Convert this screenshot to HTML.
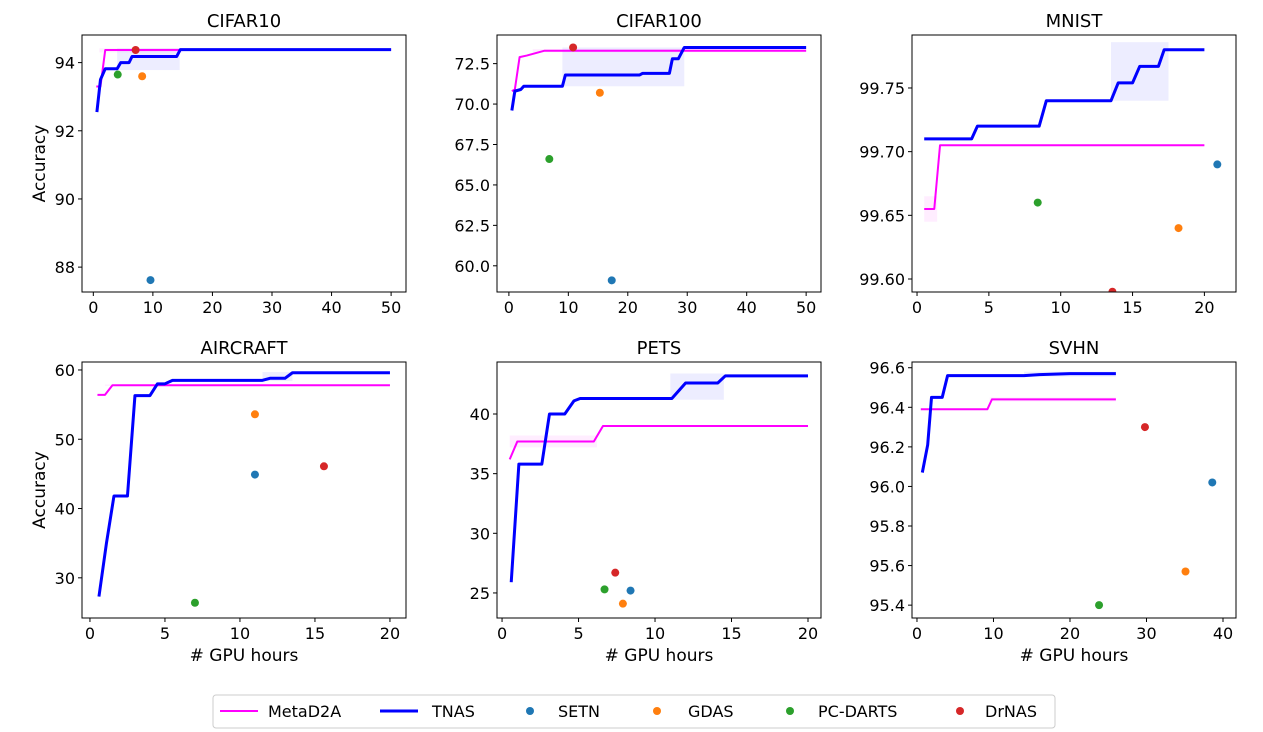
<!DOCTYPE html>
<html><head><meta charset="utf-8"><style>
html,body{margin:0;padding:0;background:#fff;}
svg{display:block;font-family:"DejaVu Sans","Liberation Sans",sans-serif;}
</style></head><body>
<svg id="c" width="1263" height="732"></svg>
<script>
const titles=["CIFAR10","CIFAR100","MNIST","AIRCRAFT","PETS","SVHN"];
const xDomains=[[-1.9,52.5],[-2,52.5],[-0.35,22.2],[-0.53,21.07],[-0.33,20.85],[-0.65,41.7]];
const yDomains=[[87.27,94.81],[58.38,74.27],[99.5898,99.7916],[24.2,61.15],[22.9,44.36],[95.335,96.629]];
const xTicks=[[0,10,20,30,40,50],[0,10,20,30,40,50],[0,5,10,15,20],[0,5,10,15,20],[0,5,10,15,20],[0,10,20,30,40]];
const yTicks=[[88,90,92,94],[60,62.5,65,67.5,70,72.5],[99.6,99.65,99.7,99.75],[30,40,50,60],[25,30,35,40],[95.4,95.6,95.8,96.0,96.2,96.4,96.6]];
const yDecimals=[0,1,2,0,0,1];
const metaD2A=[
[[0.5,93.3],[1.2,93.3],[2,94.37],[50,94.38]],
[[0.5,70.8],[1,70.9],[1.8,72.9],[3,73.0],[4,73.1],[6,73.3],[50,73.3]],
[[0.5,99.655],[1.2,99.655],[1.6,99.705],[20,99.705]],
[[0.5,56.4],[1,56.4],[1.5,57.8],[20,57.8]],
[[0.5,36.2],[1,37.7],[6,37.7],[6.6,39.0],[20,39.0]],
[[0.5,96.39],[9.2,96.39],[9.8,96.44],[26,96.44]]];
const tnas=[
[[0.6,92.55],[1.2,93.5],[2,93.82],[4,93.82],[4.6,94.0],[6,94.0],[6.5,94.18],[14,94.18],[14.6,94.38],[50,94.38]],
[[0.5,69.6],[1,70.8],[2,70.9],[2.5,71.1],[9,71.1],[9.5,71.8],[22,71.8],[22.5,71.9],[27,71.9],[27.5,72.8],[28.5,72.8],[29.5,73.5],[50,73.5]],
[[0.5,99.71],[3.8,99.71],[4.2,99.72],[8.5,99.72],[9,99.74],[13.5,99.74],[14,99.754],[15,99.754],[15.5,99.767],[16.8,99.767],[17.2,99.78],[20,99.78]],
[[0.6,27.3],[1.1,35],[1.6,41.8],[2.5,41.8],[3,56.3],[4,56.3],[4.5,58],[5,58],[5.5,58.5],[11.5,58.5],[12,58.8],[13,58.8],[13.5,59.6],[20,59.6]],
[[0.6,25.9],[1.1,35.8],[2.6,35.8],[3.1,40],[4.1,40],[4.7,41.1],[5.1,41.3],[11.1,41.3],[12,42.6],[14.1,42.6],[14.6,43.2],[20,43.2]],
[[0.7,96.07],[1.4,96.21],[1.9,96.45],[3.3,96.45],[4,96.56],[14,96.56],[16,96.565],[20,96.57],[26,96.57]]];
const tnasBands=[[4,14.5,93.78,94.42],[9,29.5,71.1,73.5],[13.5,17.5,99.74,99.786],[11.5,13.5,58.4,59.7],[11,14.5,41.2,43.4],[14,26,96.555,96.58]];
const metaBands=[[1,15,94.3,94.42],[4,50,73.2,73.4],[0.5,1.4,99.645,99.665],[1,20,57.7,57.9],[0.5,6.2,37.2,38.2],[9.5,26,96.43,96.45]];
const setn=[[9.6,87.62],[17.3,59.1],[20.9,99.69],[11,44.9],[8.4,25.2],[38.6,96.02]];
const gdas=[[8.2,93.6],[15.3,70.7],[18.2,99.64],[11,53.6],[7.9,24.1],[35.1,95.57]];
const pcdarts=[[4.1,93.65],[6.8,66.6],[8.4,99.66],[7,26.4],[6.7,25.3],[23.8,95.4]];
const drnas=[[7.1,94.37],[10.8,73.5],[13.6,99.59],[15.6,46.1],[7.4,26.7],[29.8,96.3]];

const NS="http://www.w3.org/2000/svg";
const svg=document.getElementById('c');
function mk(tag,attrs,parent){const e=document.createElementNS(NS,tag);for(const k in attrs)e.setAttribute(k,attrs[k]);(parent||svg).appendChild(e);return e;}
const colL=[82,497,912],rowT=[35,362],W=324,Hs=[257,256];
for(let i=0;i<6;i++){
  const L=colL[i%3],T=rowT[Math.floor(i/3)],H=Hs[Math.floor(i/3)];
  const g=mk('g',{});
  
  
  const xd=xDomains[i],yd=yDomains[i];
  const X=v=>L+(v-xd[0])/(xd[1]-xd[0])*W;
  const Y=v=>T+H-(v-yd[0])/(yd[1]-yd[0])*H;
  const clipId='cl'+i;
  const cp=mk('clipPath',{id:clipId},g);mk('rect',{x:L,y:T,width:W,height:H},cp);
  const plot=mk('g',{'clip-path':'url(#'+clipId+')'},g);
  const band=(b,col,name)=>{const r=mk('rect',{x:X(b[0]),y:Y(b[3]),width:X(b[1])-X(b[0]),height:Y(b[2])-Y(b[3]),fill:col,opacity:0.07},plot);};
  band(metaBands[i],'#ff00ff','metad2a-band');
  band(tnasBands[i],'#0000ff','tnas-band');
  const line=(pts,col,w,name)=>{const p=mk('polyline',{points:pts.map(q=>X(q[0])+','+Y(q[1])).join(' '),fill:'none',stroke:col,'stroke-width':w,'stroke-linejoin':'round'},plot);};
  line(metaD2A[i],'#ff00ff',2,'metad2a-line');
  line(tnas[i],'#0000ff',3,'tnas-line');
  const dot=(p,col,name)=>{const c=mk('circle',{cx:X(p[0]),cy:Y(p[1]),r:4,fill:col},plot);};
  dot(setn[i],'#1f77b4','setn-point');dot(gdas[i],'#ff7f0e','gdas-point');dot(pcdarts[i],'#2ca02c','pc-darts-point');dot(drnas[i],'#d62728','drnas-point');
  mk('rect',{x:L,y:T,width:W,height:H,fill:'none',stroke:'#000','stroke-width':1},g);
  const t=mk('text',{x:L+W/2,y:T-8,'text-anchor':'middle','font-size':18},g);t.textContent=titles[i];
  
  xTicks[i].forEach(v=>{const x=X(v);mk('line',{x1:x,x2:x,y1:T+H,y2:T+H+4,stroke:'#000'},g);const tx=mk('text',{x:x,y:T+H+21,'text-anchor':'middle','font-size':16},g);tx.textContent=v;});
  yTicks[i].forEach(v=>{const y=Y(v);mk('line',{x1:L-4,x2:L,y1:y,y2:y,stroke:'#000'},g);const tx=mk('text',{x:L-7,y:y+6,'text-anchor':'end','font-size':16},g);tx.textContent=v.toFixed(yDecimals[i]);});
  if(i%3==0){const a=mk('text',{x:0,y:0,'text-anchor':'middle','font-size':17,transform:'translate(45,'+(T+H/2)+') rotate(-90)'},g);a.textContent='Accuracy';}
  if(i>=3){const a=mk('text',{x:L+W/2,y:T+H+43,'text-anchor':'middle','font-size':17},g);a.textContent='# GPU hours';}
}
const lg=mk('g',{});


mk('rect',{x:213,y:695,width:842,height:33,rx:3,fill:'#fff',stroke:'#ccc'},lg);
const ents=[["MetaD2A","line","#ff00ff",220,268],["TNAS","line","#0000ff",380,432],["SETN","dot","#1f77b4",530,558],["GDAS","dot","#ff7f0e",657,688],["PC-DARTS","dot","#2ca02c",790,818],["DrNAS","dot","#d62728",960,985]];
ents.forEach(e=>{const g=mk('g',{},lg);
 if(e[1]=='line')mk('line',{x1:e[3],x2:e[3]+38,y1:711,y2:711,stroke:e[2],'stroke-width':e[0]=='TNAS'?3:2},g);
 else mk('circle',{cx:e[3],cy:711,r:4,fill:e[2]},g);
 const t=mk('text',{x:e[4],y:717,'font-size':16},g);t.textContent=e[0];});
</script>
</body></html>
